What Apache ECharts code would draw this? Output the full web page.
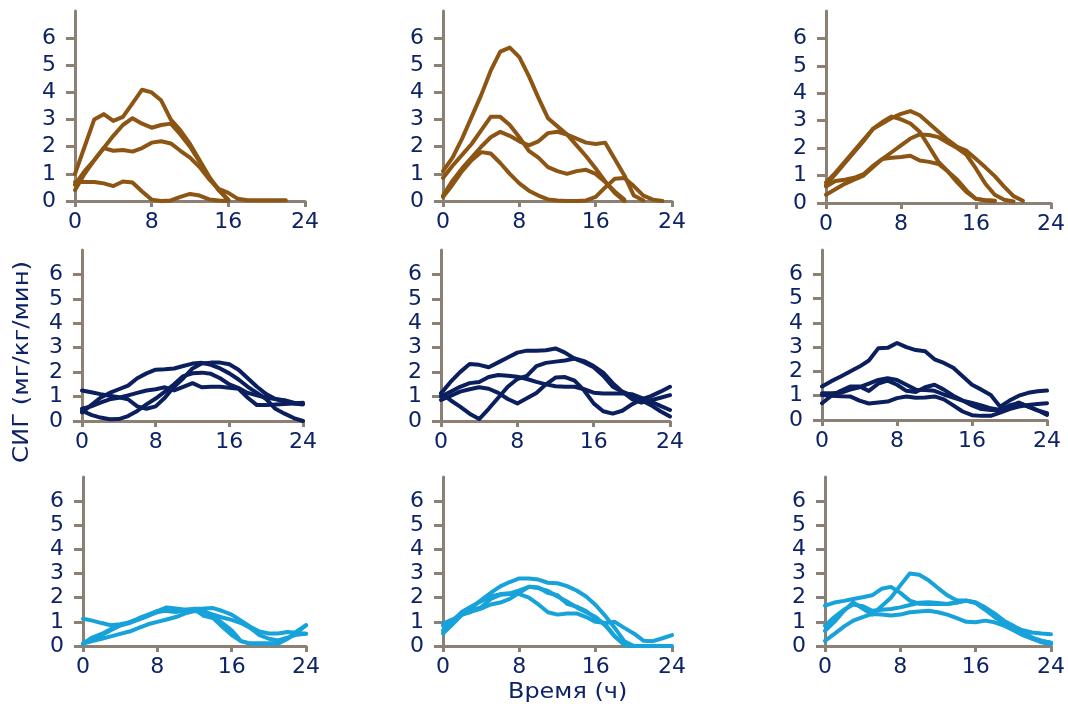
<!DOCTYPE html>
<html>
<head>
<meta charset="utf-8">
<script src="https://cdn.jsdelivr.net/npm/echarts@6/dist/echarts.min.js"></script>
<style>
  html, body { margin: 0; padding: 0; background: #ffffff; }
  #chart { width: 1068px; height: 709px; }
</style>
</head>
<body>
<div id="chart"></div>
<script>
// Time of day, hours (shared x positions for every curve)
const hours = [0,1,2,3,4,5,6,7,8,9,10,11,12,13,14,15,16,17,18,19,20,21,22,23,24];
const xTicks = [0, 8, 16, 24];
const yTicks = [0, 1, 2, 3, 4, 5, 6];

// Glucose infusion rate (mg/kg/min), one array per subject
// Row 1 (brown)
const r1c1 = [
  [1.0,2.0,3.0,3.2,2.95,3.1,3.6,4.1,4.0,3.7,3.0,2.6,2.1,1.5,0.9,0.4,0.05],
  [0.6,1.1,1.5,1.95,2.4,2.8,3.05,2.85,2.7,2.8,2.85,2.45,2.0,1.45,0.85,0.4,0.02],
  [0.4,1.0,1.5,1.95,1.85,1.88,1.82,1.95,2.15,2.2,2.12,1.85,1.6,1.25,0.8,0.45,0.3,0.08,0.03,0.03,0.03,0.03,0.03],
  [0.7,0.7,0.7,0.65,0.55,0.72,0.68,0.35,0.05,0.0,0.02,0.15,0.26,0.2,0.06,0.02,0.0]
];
const r1c2 = [
  [1.1,1.6,2.3,3.1,3.9,4.8,5.5,5.65,5.3,4.6,3.8,3.05,2.75,2.45,2.05,1.65,1.2,0.72,0.3,0.0],
  [0.85,1.3,1.7,2.1,2.6,3.1,3.1,2.8,2.35,1.85,1.6,1.25,1.1,1.0,1.1,1.15,1.0,0.7,0.35,0.05],
  [0.2,0.75,1.2,1.6,2.0,2.35,2.55,2.4,2.2,2.05,2.2,2.5,2.55,2.45,2.3,2.15,2.1,2.15,1.55,0.95,0.2,0.02],
  [0.15,0.6,1.1,1.5,1.8,1.75,1.4,1.0,0.65,0.38,0.2,0.06,0.02,0.0,0.0,0.02,0.15,0.5,0.82,0.85,0.55,0.2,0.05,0.0]
];
const r1c3 = [
  [0.75,1.1,1.5,1.9,2.3,2.7,2.9,3.1,3.25,3.35,3.2,2.9,2.6,2.3,2.05,1.9,1.6,1.3,0.98,0.6,0.25,0.08],
  [0.65,1.05,1.45,1.85,2.25,2.7,2.95,3.15,3.05,2.9,2.6,2.05,1.5,1.15,0.75,0.4,0.15,0.1,0.07],
  [0.3,0.5,0.7,0.85,1.0,1.3,1.6,1.85,2.1,2.35,2.5,2.48,2.4,2.2,2.0,1.75,1.25,0.7,0.3,0.12,0.06],
  [0.6,0.8,0.85,0.92,1.05,1.35,1.6,1.65,1.68,1.72,1.55,1.5,1.42,1.15,0.85,0.45,0.15,0.1,0.08]
];
// Row 2 (navy)
const r2c1 = [
  [1.25,1.18,1.1,1.03,0.97,0.89,0.6,0.5,0.6,0.95,1.4,1.75,2.15,2.35,2.39,2.39,2.32,2.1,1.75,1.4,1.1,0.9,0.8,0.72,0.68],
  [0.35,0.65,0.95,1.15,1.3,1.45,1.75,1.95,2.1,2.12,2.15,2.25,2.35,2.38,2.3,2.15,1.95,1.7,1.4,1.15,0.9,0.5,0.3,0.12,0.0],
  [0.5,0.6,0.75,0.89,0.95,1.05,1.15,1.25,1.3,1.38,1.25,1.4,1.55,1.38,1.4,1.4,1.36,1.32,0.95,0.65,0.65,0.68,0.7,0.72,0.75],
  [0.42,0.25,0.14,0.07,0.08,0.2,0.41,0.68,0.92,1.2,1.5,1.84,1.95,1.98,1.93,1.75,1.5,1.35,1.15,1.05,0.95,0.9,0.85,0.75,0.7]
];
const r2c2 = [
  [1.13,1.6,2.0,2.33,2.3,2.2,2.4,2.6,2.8,2.88,2.88,2.9,2.97,2.8,2.55,2.4,2.2,1.85,1.4,1.2,1.05,0.85,0.65,0.4,0.18],
  [1.13,0.85,0.59,0.3,0.08,0.5,0.95,1.4,1.72,1.85,2.25,2.38,2.43,2.48,2.56,2.45,2.25,1.98,1.55,1.2,0.9,0.75,0.85,0.95,1.06],
  [1.0,1.2,1.4,1.55,1.6,1.8,1.88,1.85,1.81,1.72,1.6,1.5,1.42,1.4,1.4,1.3,1.16,1.13,1.13,1.13,1.1,0.95,0.8,0.62,0.45],
  [0.86,1.03,1.2,1.3,1.38,1.32,1.15,0.9,0.72,0.93,1.15,1.5,1.78,1.8,1.65,1.25,0.72,0.4,0.3,0.42,0.68,0.88,1.02,1.2,1.4]
];
const r2c3 = [
  [1.38,1.6,1.79,2.0,2.2,2.45,2.95,2.97,3.17,3.0,2.88,2.83,2.5,2.35,2.15,1.8,1.45,1.25,1.03,0.55,0.8,1.0,1.12,1.18,1.21],
  [0.69,1.0,1.2,1.38,1.38,1.2,1.5,1.62,1.45,1.2,1.15,1.35,1.45,1.25,1.0,0.8,0.6,0.45,0.41,0.41,0.6,0.7,0.55,0.4,0.21],
  [1.03,1.0,0.98,0.97,0.8,0.68,0.72,0.76,0.9,0.97,0.92,0.93,0.97,0.85,0.6,0.35,0.2,0.17,0.17,0.3,0.45,0.55,0.62,0.66,0.69],
  [1.1,1.1,1.12,1.25,1.35,1.5,1.65,1.72,1.65,1.45,1.25,1.24,1.2,1.05,0.92,0.8,0.7,0.6,0.48,0.41,0.5,0.72,0.55,0.4,0.28]
];
// Row 3 (light blue)
const r3c1 = [
  [1.13,1.05,0.95,0.86,0.9,0.98,1.15,1.3,1.45,1.6,1.55,1.5,1.52,1.25,1.16,0.8,0.45,0.2,0.1,0.1,0.1,0.1,0.3,0.55,0.86],
  [0.1,0.35,0.5,0.7,0.85,0.99,1.1,1.25,1.45,1.45,1.41,1.48,1.54,1.55,1.57,1.45,1.3,1.05,0.8,0.6,0.52,0.52,0.58,0.55,0.51],
  [0.1,0.2,0.3,0.4,0.5,0.6,0.75,0.9,1.0,1.1,1.2,1.35,1.45,1.42,1.3,1.18,1.08,0.95,0.75,0.45,0.3,0.23,0.35,0.47,0.51],
  [0.1,0.3,0.45,0.65,0.85,0.95,1.1,1.25,1.4,1.48,1.48,1.5,1.5,1.45,1.25,0.95,0.65,0.2,0.1,0.1,0.1,0.1,0.3,0.6,0.86]
];
const r3c2 = [
  [0.52,0.9,1.3,1.6,1.9,2.2,2.47,2.65,2.8,2.8,2.75,2.62,2.6,2.48,2.3,2.05,1.7,1.25,0.75,0.2,0.0],
  [0.93,1.1,1.3,1.5,1.6,1.95,2.12,2.15,2.15,2.0,1.72,1.4,1.3,1.35,1.35,1.2,1.0,0.95,1.0,0.75,0.52,0.22,0.2,0.32,0.45],
  [0.86,1.05,1.3,1.42,1.55,1.72,1.8,1.95,2.2,2.45,2.42,2.2,2.1,1.75,1.63,1.45,1.15,0.9,0.4,0.05,0.0,0.0,0.0,0.0,0.0],
  [0.65,1.05,1.42,1.65,1.85,2.05,2.15,2.18,2.3,2.45,2.4,2.28,2.05,1.84,1.6,1.4,1.2,0.85,0.4,0.05,0.0,0.0]
];
const r3c3 = [
  [0.63,1.0,1.45,1.81,1.55,1.3,1.65,2.0,2.51,3.0,2.95,2.72,2.4,2.1,1.88,1.88,1.8,1.55,1.3,1.0,0.8,0.65,0.56,0.52,0.49],
  [1.67,1.8,1.87,1.95,2.02,2.1,2.37,2.45,2.2,1.88,1.75,1.74,1.74,1.74,1.8,1.88,1.8,1.6,1.35,1.05,0.84,0.6,0.35,0.22,0.14],
  [0.84,1.2,1.5,1.72,1.65,1.46,1.5,1.53,1.6,1.7,1.79,1.81,1.78,1.74,1.8,1.88,1.78,1.5,1.2,0.95,0.77,0.5,0.3,0.15,0.07],
  [0.21,0.5,0.8,1.05,1.2,1.33,1.3,1.26,1.3,1.4,1.43,1.46,1.4,1.3,1.15,1.0,0.98,1.05,0.98,0.85,0.65,0.45,0.3,0.2,0.14]
];

const rowColors = ['#8c5514', '#0b1f5e', '#17a2da'];
const panels = [
  [r1c1, r1c2, r1c3],
  [r2c1, r2c2, r2c3],
  [r3c1, r3c2, r3c3]
];

// Plot-area boxes: [left, top(y=7), right(x=24), bottom(y=0)]
const boxes = [
  [[75, 11, 305, 201], [443, 11, 672, 201], [826, 11, 1055, 203]],
  [[82, 250, 303, 421], [441, 250, 670, 421], [822, 250, 1047, 420]],
  [[83, 477, 306, 646], [443, 477, 672, 646], [825, 477, 1052, 646]]
];

const axisColor = '#8c8074';
const textColor = '#0d2366';
const font = 'DejaVu Sans';

const grids = [], xAxes = [], yAxes = [], series = [];
panels.forEach((row, r) => {
  row.forEach((subjects, c) => {
    const idx = grids.length;
    const b = boxes[r][c];
    grids.push({ left: b[0], top: b[1], width: b[2] - b[0], height: b[3] - b[1] });
    xAxes.push({
      type: 'value', gridIndex: idx, min: 0, max: 24, interval: 8,
      axisLine: { show: true, lineStyle: { color: axisColor, width: 3 } },
      axisTick: { show: true, length: 6, lineStyle: { color: axisColor, width: 3 }, customValues: xTicks },
      axisLabel: { color: textColor, fontFamily: font, fontSize: 22, margin: 10, customValues: xTicks },
      splitLine: { show: false }
    });
    yAxes.push({
      type: 'value', gridIndex: idx, min: 0, max: 7, interval: 1,
      axisLine: { show: true, lineStyle: { color: axisColor, width: 3 } },
      axisTick: { show: true, length: 9, lineStyle: { color: axisColor, width: 3 }, customValues: yTicks },
      axisLabel: { color: textColor, fontFamily: font, fontSize: 22, margin: 19, customValues: yTicks },
      splitLine: { show: false }
    });
    subjects.forEach((vals) => {
      const pts = [];
      vals.forEach((v, i) => { if (v !== null && v !== undefined) pts.push([hours[i], v]); });
      series.push({
        type: 'line', xAxisIndex: idx, yAxisIndex: idx, data: pts,
        symbol: 'none', smooth: false, clip: false, silent: true, animation: false,
        lineStyle: { color: rowColors[r], width: 4, cap: 'round', join: 'round' }
      });
    });
  });
});

const chart = echarts.init(document.getElementById('chart'), null, { renderer: 'canvas' });
chart.setOption({
  backgroundColor: '#ffffff',
  animation: false,
  grid: grids,
  xAxis: xAxes,
  yAxis: yAxes,
  series: series,
  graphic: [
    {
      type: 'text', x: 508, y: 682, scaleX: 1.14,
      style: { text: 'Время (ч)', fill: textColor, font: '21px "DejaVu Sans"' }
    },
    {
      type: 'text', x: 12, y: 463, rotation: Math.PI / 2, scaleX: 1.16,
      style: { text: 'СИГ (мг/кг/мин)', fill: textColor, font: '21px "DejaVu Sans"' }
    }
  ]
});
</script>
</body>
</html>
